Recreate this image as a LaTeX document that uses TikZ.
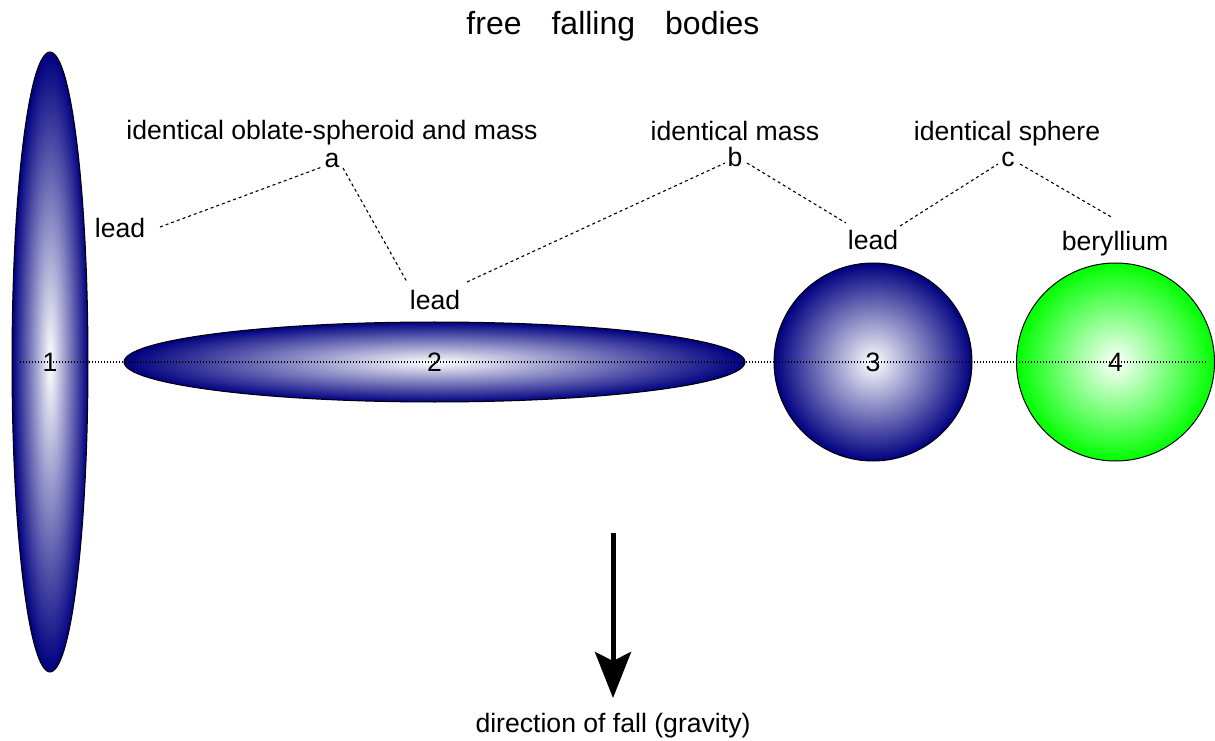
\documentclass[tikz,border=0pt]{standalone}
\usepackage{fontspec}
\setmainfont{Liberation Sans}
\usetikzlibrary{shapes.geometric,arrows.meta,calc}
\definecolor{navy}{RGB}{0,0,128}
\definecolor{brightgreen}{RGB}{0,255,0}
\begin{document}
\begin{tikzpicture}[x=1pt,y=1pt,
  lbl/.style={font=\fontsize{26.6pt}{30pt}\selectfont, inner sep=0pt, anchor=base},
  body/.style={ellipse, draw=black, line width=1pt, inner sep=0pt,
     font=\fontsize{26.6pt}{30pt}\selectfont, inner color=white},
  leadbody/.style={body, outer color=navy},
  berbody/.style={body, outer color=brightgreen},
  conn/.style={dash pattern=on 3pt off 3pt, line width=1.1pt},
  axisline/.style={dash pattern=on 1.2pt off 1.8pt, line width=1.2pt},
  fall/.style={line width=5pt, -{Stealth[length=46pt,width=36pt,inset=9pt]}}
]
\useasboundingbox (0,0) rectangle (1215,740);

% bodies
\node[leadbody, minimum width=76pt, minimum height=620pt] (e1) at (50,378) {1};
\node[leadbody, minimum width=621pt, minimum height=80pt] (e2) at (434.5,378) {2};
\node[leadbody, minimum width=198pt, minimum height=198pt] (e3) at (873,378) {3};
\node[berbody, minimum width=198pt, minimum height=198pt] (e4) at (1115.5,378) {4};

% axis line
\coordinate (axl) at (20,378);
\coordinate (axr) at (1207,378);
\draw[axisline] (axl) -- (axr);

% title
\node[lbl, font=\fontsize{32pt}{36pt}\selectfont] (title) at (613,705) {free\hspace{30pt}falling\hspace{30pt}bodies};

% labels
\node[lbl] (ta) at (332,600) {identical oblate-spheroid and mass};
\node[lbl] (a) at (332,572) {a};
\node[lbl] (lead1) at (120,502) {lead};
\node[lbl] (lead2) at (435,430) {lead};
\node[lbl] (tb) at (735,599) {identical mass};
\node[lbl] (b) at (735,573) {b};
\node[lbl] (lead3) at (873,490) {lead};
\node[lbl] (tc) at (1007,599) {identical sphere};
\node[lbl] (c) at (1008,573) {c};
\node[lbl] (beryl) at (1115,489) {beryllium};
\node[lbl] (dir) at (613,8) {direction of fall (gravity)};

% dashed connectors
\draw[conn] ($(lead1.base)+(40,11)$) -- ($(a.base)+(-10,1)$);
\draw[conn] ($(a.base)+(11,0)$) -- ($(lead2.base)+(-28,28)$);
\draw[conn] ($(lead2.base)+(32,28)$) -- ($(b.base)+(-10,4)$);
\draw[conn] ($(b.base)+(12,4)$) -- ($(lead3.base)+(-27,27)$);
\draw[conn] ($(lead3.base)+(27,24)$) -- ($(c.base)+(-10,3)$);
\draw[conn] ($(c.base)+(12,3)$) -- ($(beryl.base)+(-2,33)$);

% gravity arrow
\coordinate (fallstart) at (613,207);
\coordinate (fallend) at ($(dir.base)+(0,34)$);
\draw[fall] (fallstart) -- (fallend);
\end{tikzpicture}
\end{document}
